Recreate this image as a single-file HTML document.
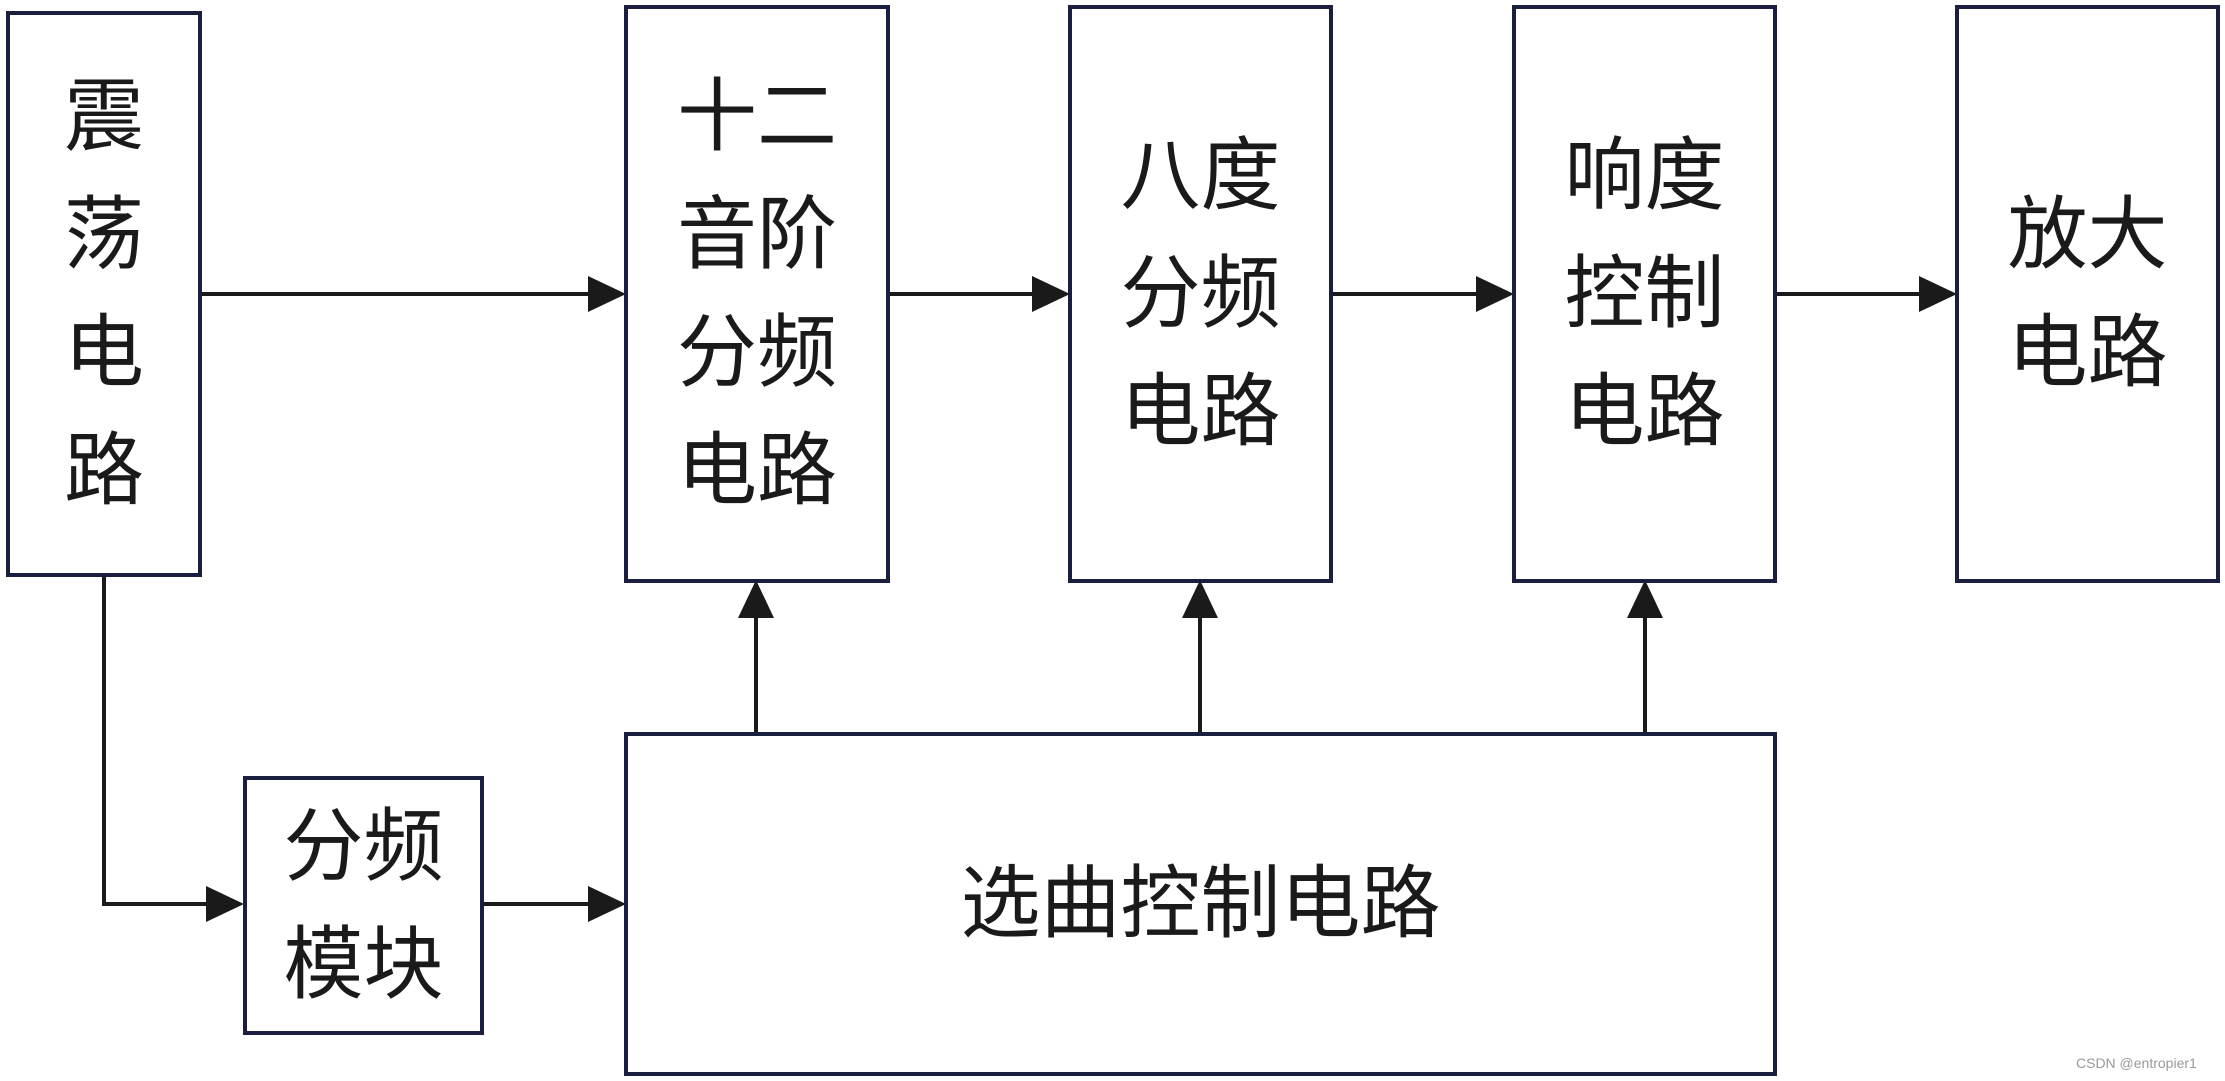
<!DOCTYPE html>
<html><head><meta charset="utf-8"><style>
body{margin:0;width:2225px;height:1081px;background:#fff;position:relative;overflow:hidden;font-family:"Liberation Sans","Noto Sans CJK SC",sans-serif;}
.b{position:absolute;box-sizing:border-box;border:4px solid #1b1f3f;display:flex;align-items:center;justify-content:center;text-align:center;font-size:80px;line-height:118px;color:#1a1a1a;}
svg{position:absolute;left:0;top:0}
</style></head><body>
<svg width="2225" height="1081">
<g stroke="#1a1a1a" stroke-width="4" fill="none">
<line x1="200" y1="294" x2="592" y2="294"/>
<line x1="888" y1="294" x2="1036" y2="294"/>
<line x1="1331" y1="294" x2="1480" y2="294"/>
<line x1="1775" y1="294" x2="1923" y2="294"/>
<polyline points="104,575 104,904 210,904"/>
<line x1="482" y1="904" x2="592" y2="904"/>
<line x1="756" y1="734" x2="756" y2="614"/>
<line x1="1200" y1="734" x2="1200" y2="614"/>
<line x1="1645" y1="734" x2="1645" y2="614"/>
</g>
<g fill="#1a1a1a">
<polygon points="626,294 588,276 588,312"/>
<polygon points="1070,294 1032,276 1032,312"/>
<polygon points="1514,294 1476,276 1476,312"/>
<polygon points="1957,294 1919,276 1919,312"/>
<polygon points="244,904 206,886 206,922"/>
<polygon points="626,904 588,886 588,922"/>
<polygon points="756,580 738,618 774,618"/>
<polygon points="1200,580 1182,618 1218,618"/>
<polygon points="1645,580 1627,618 1663,618"/>
</g>
</svg>
<div class="b" style="left:6px;top:11px;width:196px;height:566px">震<br>荡<br>电<br>路</div>
<div class="b" style="left:624px;top:5px;width:266px;height:578px">十二<br>音阶<br>分频<br>电路</div>
<div class="b" style="left:1068px;top:5px;width:265px;height:578px">八度<br>分频<br>电路</div>
<div class="b" style="left:1512px;top:5px;width:265px;height:578px">响度<br>控制<br>电路</div>
<div class="b" style="left:1955px;top:5px;width:265px;height:578px">放大<br>电路</div>
<div class="b" style="left:243px;top:776px;width:241px;height:259px">分频<br>模块</div>
<div class="b" style="left:624px;top:732px;width:1153px;height:344px">选曲控制电路</div>
<div style="position:absolute;left:2076px;top:1055px;font-size:14px;color:#999">CSDN @entropier1</div>
</body></html>
